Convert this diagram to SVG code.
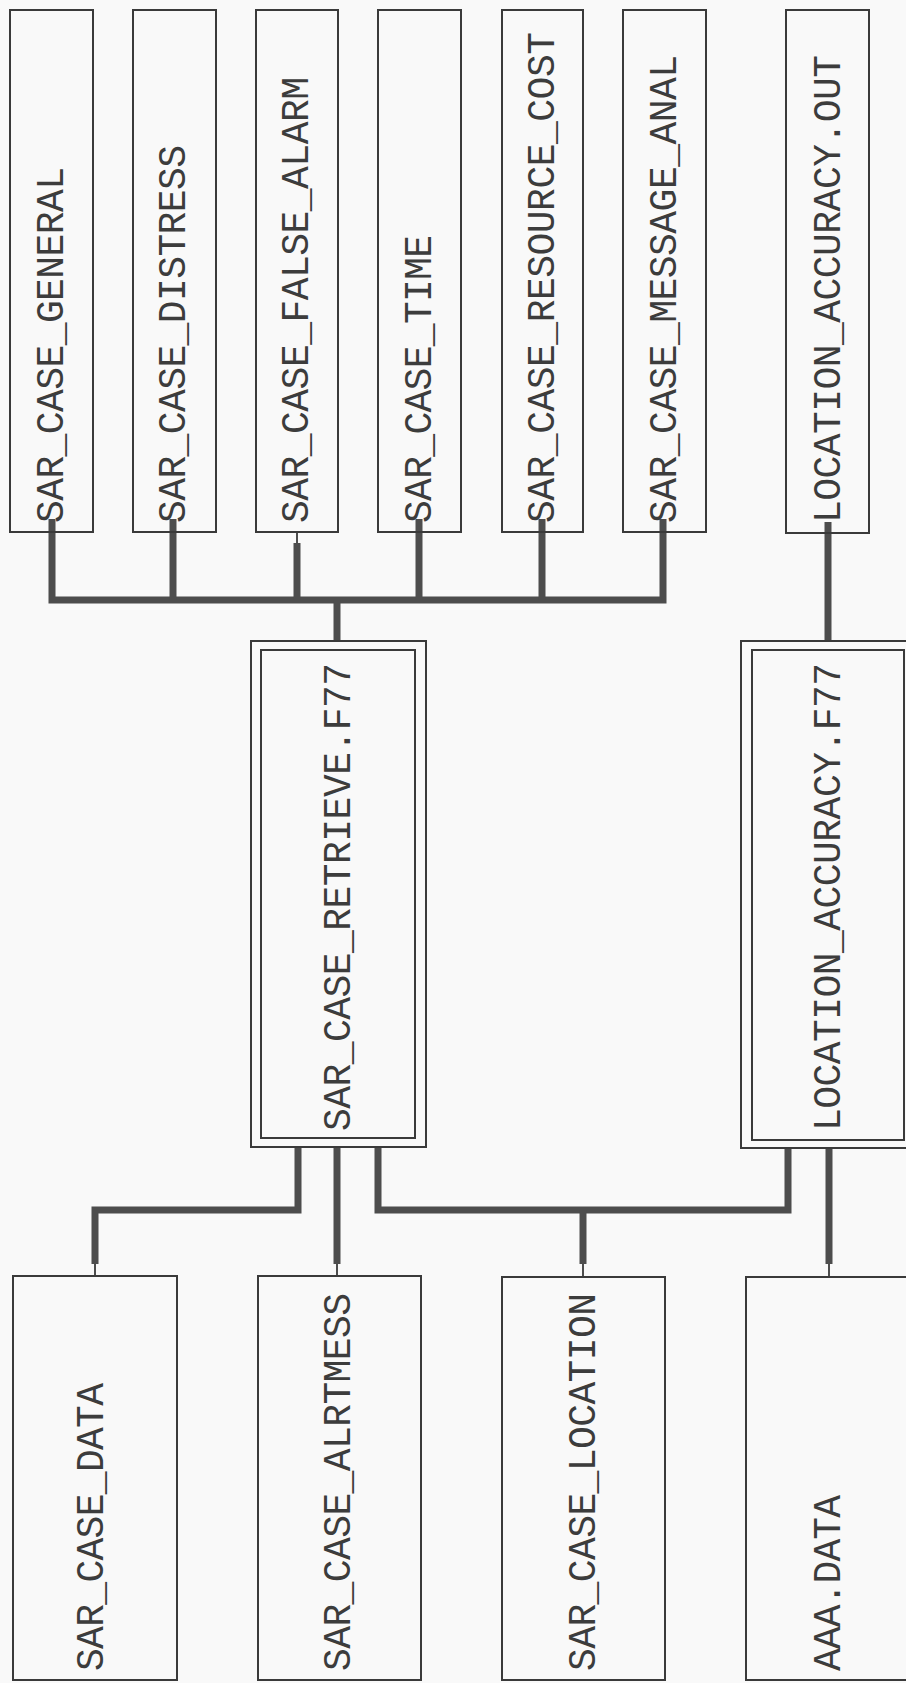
<svg xmlns="http://www.w3.org/2000/svg" width="906" height="1683" viewBox="0 0 906 1683">
<style>
.box{fill:none;stroke:#3a3a3a;stroke-width:2}
.lbl{font-family:"Liberation Mono","DejaVu Sans Mono",monospace;font-size:38px;fill:#3c3c3c;lengthAdjust:spacing}
.wire{fill:none;stroke:#4d4d4d;stroke-width:7;stroke-linejoin:miter;stroke-linecap:butt}
.thin{fill:none;stroke:#4d4d4d;stroke-width:2}
</style>
<rect x="0" y="0" width="906" height="1683" fill="#f9f9f9"/>

<g id="connectors">
  <path class="wire" d="M52,519 V600 H663 V519"/>
  <path class="wire" d="M173,519 V600"/>
  <path class="thin" d="M297,532 V544"/>
  <path class="wire" d="M297,543 V600"/>
  <path class="wire" d="M419,519 V600"/>
  <path class="wire" d="M542,519 V600"/>
  <path class="wire" d="M337,600 V641"/>
  <path class="wire" d="M828,522 V641"/>
  <path class="wire" d="M298,1148 V1210 H95 V1264"/>
  <path class="thin" d="M95,1263 V1276"/>
  <path class="wire" d="M337,1148 V1264"/>
  <path class="thin" d="M337,1263 V1276"/>
  <path class="wire" d="M378,1148 V1210 H788 V1148"/>
  <path class="wire" d="M583,1210 V1264"/>
  <path class="thin" d="M583,1263 V1277"/>
  <path class="wire" d="M829,1148 V1264"/>
  <path class="thin" d="M829,1263 V1277"/>
</g>

<g id="sar_case_general">
  <rect class="box" x="10" y="10" width="83" height="522"/>
  <text class="lbl" transform="translate(63,523) rotate(-90)" textLength="356">SAR_CASE_GENERAL</text>
</g>
<g id="sar_case_distress">
  <rect class="box" x="133" y="10" width="83" height="522"/>
  <text class="lbl" transform="translate(185,523) rotate(-90)" textLength="378">SAR_CASE_DISTRESS</text>
</g>
<g id="sar_case_false_alarm">
  <rect class="box" x="256" y="10" width="82" height="522"/>
  <text class="lbl" transform="translate(308,523) rotate(-90)" textLength="446">SAR_CASE_FALSE_ALARM</text>
</g>
<g id="sar_case_time">
  <rect class="box" x="378" y="10" width="83" height="522"/>
  <text class="lbl" transform="translate(431,523) rotate(-90)" textLength="288">SAR_CASE_TIME</text>
</g>
<g id="sar_case_resource_cost">
  <rect class="box" x="502" y="10" width="81" height="522"/>
  <text class="lbl" transform="translate(554,523) rotate(-90)" textLength="491">SAR_CASE_RESOURCE_COST</text>
</g>
<g id="sar_case_message_anal">
  <rect class="box" x="623" y="10" width="83" height="522"/>
  <text class="lbl" transform="translate(676,523) rotate(-90)" textLength="468">SAR_CASE_MESSAGE_ANAL</text>
</g>
<g id="location_accuracy_out">
  <rect class="box" x="786" y="10" width="83" height="523"/>
  <text class="lbl" transform="translate(840,523) rotate(-90)" textLength="468">LOCATION_ACCURACY.OUT</text>
</g>

<g id="sar_case_retrieve_f77">
  <rect class="box" x="251" y="641" width="175" height="506"/>
  <rect class="box" x="261" y="650" width="154" height="488"/>
  <text class="lbl" transform="translate(350,1131) rotate(-90)" textLength="468">SAR_CASE_RETRIEVE.F77</text>
</g>
<g id="location_accuracy_f77">
  <rect class="box" x="741" y="641" width="180" height="507"/>
  <rect class="box" x="752" y="650" width="152" height="490"/>
  <text class="lbl" transform="translate(840,1131) rotate(-90)" textLength="468">LOCATION_ACCURACY.F77</text>
</g>

<g id="sar_case_data">
  <rect class="box" x="13" y="1276" width="164" height="404"/>
  <text class="lbl" transform="translate(103,1671) rotate(-90)" textLength="288">SAR_CASE_DATA</text>
</g>
<g id="sar_case_alrtmess">
  <rect class="box" x="258" y="1276" width="163" height="404"/>
  <text class="lbl" transform="translate(350,1671) rotate(-90)" textLength="378">SAR_CASE_ALRTMESS</text>
</g>
<g id="sar_case_location">
  <rect class="box" x="502" y="1277" width="163" height="403"/>
  <text class="lbl" transform="translate(595,1671) rotate(-90)" textLength="378">SAR_CASE_LOCATION</text>
</g>
<g id="aaa_data">
  <rect class="box" x="746" y="1277" width="175" height="403"/>
  <text class="lbl" transform="translate(840,1671) rotate(-90)" textLength="176">AAA.DATA</text>
</g>
</svg>
